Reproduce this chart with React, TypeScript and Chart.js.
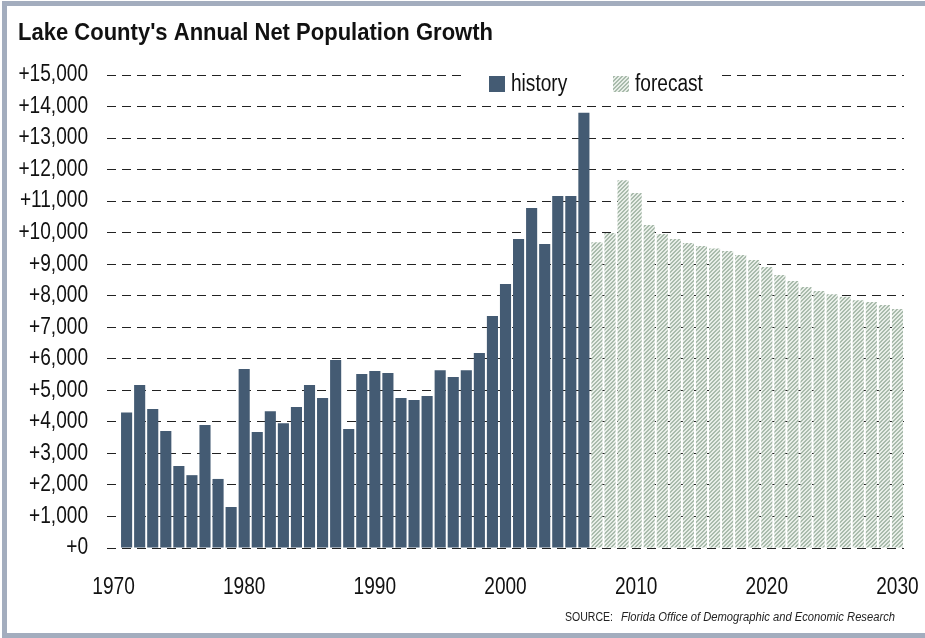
import React, { useEffect, useRef } from "react";
import { Chart, registerables } from "chart.js";

Chart.register(...registerables);

const years: string[] = [
  "1970", "1971", "1972", "1973", "1974", "1975", "1976", "1977", "1978", "1979",
  "1980", "1981", "1982", "1983", "1984", "1985", "1986", "1987", "1988", "1989",
  "1990", "1991", "1992", "1993", "1994", "1995", "1996", "1997", "1998", "1999",
  "2000", "2001", "2002", "2003", "2004", "2005", "2006", "2007", "2008", "2009",
  "2010", "2011", "2012", "2013", "2014", "2015", "2016", "2017", "2018", "2019",
  "2020", "2021", "2022", "2023", "2024", "2025", "2026", "2027", "2028", "2029",
  "2030",
];

const tickLabels: string[] = ["1970", "1980", "1990", "2000", "2010", "2020", "2030"];

// 1971 – 2006
const historyYears: string[] = years.slice(1, 37);
const historyValues: number[] = [
  4300, 5170, 4410, 3710, 2600, 2310, 3900, 2190, 1300, 5680,
  3680, 4340, 3960, 4470, 5170, 4760, 5960, 3770, 5520, 5610,
  5550, 4760, 4690, 4820, 5640, 5420, 5640, 6180, 7360, 8370,
  9800, 10780, 9640, 11160, 11160, 13800,
];

// 2007 – 2030
const forecastYears: string[] = years.slice(37);
const forecastValues: number[] = [
  9700, 9990, 11660, 11260, 10240, 9960, 9800, 9670, 9580, 9500,
  9420, 9290, 9130, 8910, 8660, 8470, 8280, 8150, 8050, 7970,
  7860, 7800, 7710, 7580,
];

const TITLE = "Lake County's Annual Net Population Growth";
const SOURCE_LABEL = "SOURCE:";
const SOURCE_TEXT = "Florida Office of Demographic and Economic Research";

const FONT = '"Liberation Sans", Arial, sans-serif';
const NARROW = 0.83; // emulate a condensed face
const HISTORY_COLOR = "#445b73";

function makeHatch(): CanvasPattern | string {
  const c = document.createElement("canvas");
  c.width = 4;
  c.height = 4;
  const g = c.getContext("2d");
  if (!g) return "#c5d0c6";
  g.fillStyle = "#e8eee8";
  g.fillRect(0, 0, 4, 4);
  g.fillStyle = "#a9bbac";
  for (let y = 0; y < 4; y++) {
    for (let x = 0; x < 4; x++) {
      const m = (x + y) % 4;
      if (m === 0 || m === 1) g.fillRect(x, y, 1, 1);
    }
  }
  const p = g.createPattern(c, "repeat");
  return p || "#c5d0c6";
}

const decorPlugin = {
  id: "decor",
  afterDraw(chart: any) {
    const ctx = chart.ctx;
    ctx.save();
    // title
    ctx.fillStyle = "#111";
    ctx.font = `bold 24px ${FONT}`;
    ctx.textBaseline = "alphabetic";
    ctx.textAlign = "left";
    ctx.fillText(TITLE, 11, 34, 475);

    // legend (drawn inside plot area, with white background)
    ctx.fillStyle = "#ffffff";
    ctx.fillRect(459, 60, 256, 20);
    const items = chart.data.datasets.map((d: any) => ({ label: d.label, color: d.backgroundColor }));
    const xs = [482, 606];
    items.forEach((it: any, i: number) => {
      const x = xs[i];
      ctx.fillStyle = it.color;
      ctx.fillRect(x, 70, 16, 16);
      ctx.fillStyle = "#111";
      ctx.font = `23px ${FONT}`;
      ctx.textAlign = "left";
      ctx.textBaseline = "alphabetic";
      ctx.fillText(it.label, x + 22, 85);
    });

    // source
    ctx.fillStyle = "#222";
    ctx.textBaseline = "alphabetic";
    ctx.font = `italic 12px ${FONT}`;
    ctx.textAlign = "right";
    ctx.fillText(SOURCE_TEXT, 888, 615, 274);
    ctx.font = `12px ${FONT}`;
    ctx.fillText(SOURCE_LABEL, 606, 615, 48);
    ctx.restore();
  },
};

export default function App() {
  const ref = useRef<HTMLCanvasElement | null>(null);

  useEffect(() => {
    document.body.style.margin = "0";
    const canvas = ref.current;
    if (!canvas) return;
    const c2d = canvas.getContext("2d") as CanvasRenderingContext2D;
    const origFill = c2d.fillText.bind(c2d);
    (c2d as any).fillText = (t: string, x: number, y: number, mw?: number) => {
      const w = c2d.measureText(t).width * NARROW;
      origFill(t, x, y, mw !== undefined ? Math.min(mw, c2d.measureText(t).width) : w);
    };
    const hatch = makeHatch();

    const historyData = years.map((y) => {
      const i = historyYears.indexOf(y);
      return i >= 0 ? historyValues[i] : null;
    });
    const forecastData = years.map((y) => {
      const i = forecastYears.indexOf(y);
      return i >= 0 ? forecastValues[i] : null;
    });

    const chart = new Chart(canvas, {
      type: "bar",
      data: {
        labels: years,
        datasets: [
          {
            label: "history",
            data: historyData,
            backgroundColor: HISTORY_COLOR,
            borderWidth: 0,
            grouped: false,
            barPercentage: 0.85,
            categoryPercentage: 1,
          } as any,
          {
            label: "forecast",
            data: forecastData,
            backgroundColor: hatch as any,
            borderWidth: 0,
            grouped: false,
            barPercentage: 0.85,
            categoryPercentage: 1,
          } as any,
        ],
      },
      options: {
        animation: false,
        responsive: false,
        maintainAspectRatio: false,
        layout: { padding: { left: 11, top: 69, right: 21, bottom: 33 } },
        plugins: {
          legend: { display: false },
          title: { display: false },
          tooltip: { enabled: false },
        },
        scales: {
          x: {
            type: "category",
            offset: true,
            grid: { display: false, drawTicks: false },
            border: { display: false },
            afterFit: (s: any) => {
              s.height = 52;
              s.paddingLeft = 0;
              s.paddingRight = 0;
            },
            ticks: {
              autoSkip: false,
              maxRotation: 0,
              minRotation: 0,
              padding: 26,
              color: "#111",
              font: { family: FONT, size: 23 },
              callback: (_v: any, idx: number) => (tickLabels.includes(years[idx]) ? years[idx] : null),
            },
          },
          y: {
            min: 0,
            max: 15000,
            grid: { color: "#222", lineWidth: 1, drawTicks: false },
            border: { display: false, dash: [9, 6] },
            afterFit: (s: any) => {
              s.width = 89;
              s.paddingTop = 0;
              s.paddingBottom = 0;
            },
            ticks: {
              stepSize: 1000,
              padding: 19,
              color: "#111",
              font: { family: FONT, size: 23 },
              callback: (v: any) => "+" + Number(v).toLocaleString("en-US"),
            },
          },
        },
      },
      plugins: [decorPlugin],
    });
    return () => {
      chart.destroy();
      (c2d as any).fillText = origFill;
    };
  }, []);

  return (
    <div
      style={{
        position: "absolute",
        top: 1,
        left: 2,
        width: 923,
        height: 627,
        borderTop: "5px solid #a3adbe",
        borderLeft: "5px solid #a3adbe",
        borderBottom: "5px solid #a3adbe",
        background: "#fff",
      }}
    >
      <canvas ref={ref} width={918} height={627} style={{ display: "block", width: 918, height: 627 }} />
    </div>
  );
}
